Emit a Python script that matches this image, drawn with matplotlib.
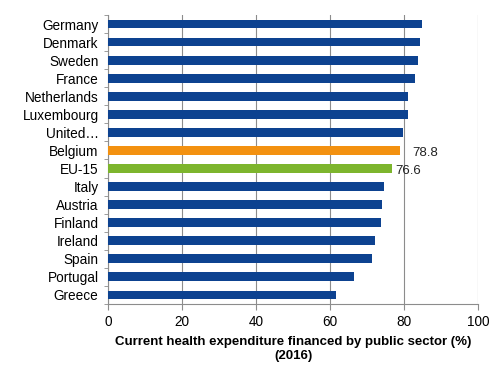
import matplotlib.pyplot as plt
import numpy as np

plt.rcParams['font.family'] = ['Liberation Sans', 'DejaVu Sans']

countries = ['Germany', 'Denmark', 'Sweden', 'France', 'Netherlands', 'Luxembourg',
             'United\u2026', 'Belgium', 'EU-15', 'Italy', 'Austria', 'Finland',
             'Ireland', 'Spain', 'Portugal', 'Greece']
values = [84.7, 84.2, 83.6, 82.8, 80.9, 80.9, 79.6, 78.8, 76.6,
          74.5, 74.1, 73.6, 72.0, 71.2, 66.3, 61.5]
labelled = {'Belgium': '78.8', 'EU-15': '76.6'}

blue = '#0D4290'
colors = []
for c in countries:
    if c == 'Belgium':
        colors.append('#F39110')
    elif c == 'EU-15':
        colors.append('#7DB52D')
    else:
        colors.append(blue)

fig = plt.figure(figsize=(4.99, 3.67), dpi=100)
ax = fig.add_axes([0.217, 0.172, 0.7415, 0.787])

y = np.arange(len(countries))
ax.barh(y, values, height=0.48, color=colors, zorder=3)
ax.set_ylim(len(countries) - 0.5, -0.5)
ax.set_xlim(0, 100)

# value labels for the highlighted bars
for i, c in enumerate(countries):
    if c in labelled:
        off = 3.3 if c == 'Belgium' else 1.0
        ax.text(values[i] + off, i + 0.15, labelled[c], va='center', ha='left',
                fontsize=9.5, color='#222222', zorder=4)

ax.set_xticks([0, 20, 40, 60, 80, 100])
ax.grid(axis='x', color='#8c8c8c', linewidth=0.8, zorder=0)

# category ticks sit between bars
ax.set_yticks(y)
ax.set_yticklabels(countries, fontsize=9.8)
ax.set_yticks(np.arange(-0.5, len(countries)), minor=True)
ax.tick_params(axis='y', which='major', length=0, pad=7)
ax.tick_params(axis='y', which='minor', length=3, color='#8c8c8c', direction='out')
ax.tick_params(axis='x', length=4, color='#8c8c8c', labelsize=9.8, pad=4)

for s in ['top', 'right']:
    ax.spines[s].set_visible(False)
for s in ['left', 'bottom']:
    ax.spines[s].set_color('#8c8c8c')
    ax.spines[s].set_linewidth(0.8)

ax.set_xlabel('Current health expenditure financed by public sector (%)\n(2016)',
              fontsize=9.5, fontweight='bold', labelpad=5, linespacing=1.2)

fig.savefig('out.png', dpi=100)
